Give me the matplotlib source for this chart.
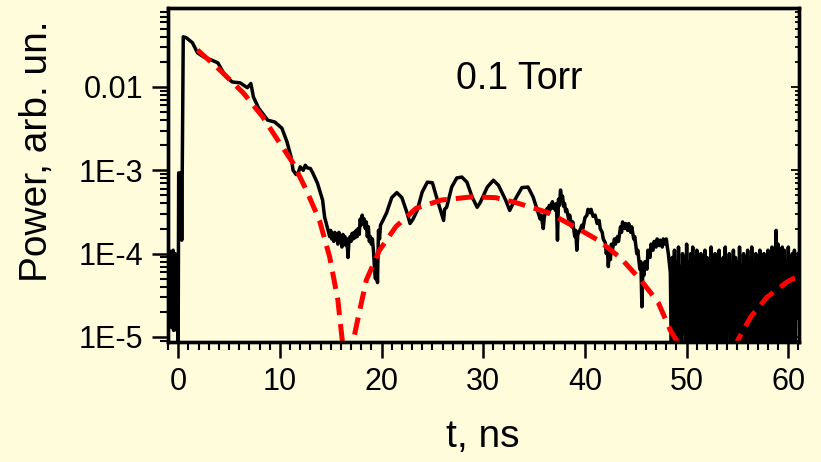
import numpy as np
import matplotlib
matplotlib.use('Agg')
import matplotlib.pyplot as plt
from matplotlib.ticker import MultipleLocator, LogLocator, NullFormatter

# measured signal, split into stretches (t in ns, power in arb. units)
t_pre = [-1.0, -0.95, -0.9, -0.85, -0.8, -0.75, -0.7, -0.65, -0.6, -0.55,
         -0.5, -0.45, -0.4, -0.35, -0.3, -0.25, -0.2, -0.15, -0.1, -0.05]
p_pre = [8e-5, 2e-5, 1.1e-4, 1.5e-5, 9e-5, 3e-5, 1e-4, 1.3e-5, 7e-5, 2.5e-5,
         1.1e-4, 1.2e-5, 6e-5, 4e-5, 1e-4, 1.5e-5, 8e-5, 1.2e-5, 5e-5, 2e-5]

t_decay = [0.0, 0.05, 0.3, 0.35, 0.5, 0.8, 1.4, 1.9, 2.5, 3.3,
           3.9, 4.6, 5.3, 6.1, 6.8, 7.15, 7.4, 7.9, 8.8, 9.5,
           10.2, 10.7, 11.1, 11.3, 11.6, 11.8, 12.0, 12.3, 12.5, 12.7,
           13.0, 13.2, 13.7, 14.2, 14.4, 14.8]
p_decay = [9e-6, 9.3e-4, 9.3e-4, 1.45e-4, 0.040, 0.039, 0.034, 0.0257, 0.023, 0.021,
           0.0195, 0.0138, 0.0115, 0.0112, 0.0098, 0.011, 0.0076, 0.0056, 0.0040, 0.0038,
           0.0032, 0.0022, 0.00145, 0.0010, 8.9e-4, 9.3e-4, 1.1e-3, 1.0e-3, 1.15e-3, 1.07e-3,
           1.05e-3, 9.5e-4, 7.0e-4, 4.4e-4, 2.75e-4, 1.8e-4]

t_dip = [14.9, 15.0, 15.1, 15.2, 15.3, 15.4, 15.5, 15.6, 15.7, 15.8,
         15.9, 16.0, 16.1, 16.2, 16.3, 16.4, 16.5, 16.6, 16.7, 16.8,
         16.9, 17.0, 17.1, 17.2, 17.3, 17.4, 17.5, 17.6, 17.7, 17.8,
         17.9, 18.0, 18.1, 18.2, 18.3, 18.4, 18.5, 18.6, 18.7, 18.8,
         18.9, 19.0, 19.1, 19.2, 19.3, 19.4, 19.5, 19.6, 19.7, 19.8, 19.9]
p_dip = [1.6e-4, 1.9e-4, 1.5e-4, 1.75e-4, 1.4e-4, 1.8e-4, 1.55e-4, 1.7e-4, 1.3e-4, 1.8e-4,
         1.45e-4, 1.65e-4, 1.2e-4, 1.7e-4, 1.4e-4, 1.6e-4, 1.25e-4, 1.5e-4, 9e-5, 1.45e-4,
         1.6e-4, 1.4e-4, 1.75e-4, 1.5e-4, 1.8e-4, 1.55e-4, 1.9e-4, 1.6e-4, 2.0e-4, 1.7e-4,
         2.6e-4, 2.2e-4, 2.9e-4, 2.3e-4, 2.6e-4, 2.0e-4, 2.4e-4, 1.6e-4, 2.1e-4, 1.4e-4,
         1.6e-4, 1.3e-4, 1.5e-4, 1.1e-4, 7e-5, 5e-5, 9e-5, 4.5e-5, 1.9e-4, 1.5e-4, 2.2e-4]

t_osc = [20.2, 20.5, 21.0, 21.5, 22.0, 22.5, 22.8, 23.1, 23.5, 24.0,
         24.5, 25.0, 25.4, 25.8, 26.1, 26.2, 26.4, 26.9, 27.4, 27.9,
         28.4, 28.9, 29.4, 29.7, 30.4, 31.0, 31.5, 32.2, 32.6, 33.1,
         33.8, 34.4, 34.9]
p_osc = [2.6e-4, 3.1e-4, 4.7e-4, 5.4e-4, 4.7e-4, 3.1e-4, 2.3e-4, 2.6e-4, 3.3e-4, 5.5e-4,
         7.2e-4, 7.1e-4, 4.8e-4, 3.3e-4, 2.5e-4, 3.4e-4, 3.6e-4, 6.3e-4, 8.1e-4, 8.3e-4,
         7.2e-4, 4.8e-4, 3.6e-4, 4.1e-4, 6.3e-4, 7.6e-4, 6.6e-4, 4.4e-4, 3.3e-4, 4.4e-4,
         6.2e-4, 6.3e-4, 4.8e-4]

t_late = [35.4, 35.6, 35.7, 35.9, 36.0, 36.1, 36.3, 36.4, 36.5, 36.6,
          36.8, 36.9, 37.0, 37.1, 37.2, 37.3, 37.4, 37.5, 37.6, 37.7,
          37.8, 37.9, 38.0, 38.1, 38.2, 38.4, 38.5, 38.7, 38.8, 39.0,
          39.1, 39.2, 39.3, 39.5, 39.7, 39.8, 40.0, 40.2, 40.3, 40.5,
          40.6, 40.8, 41.0, 41.2, 41.4, 41.5, 41.7, 41.8, 42.0, 42.1,
          42.2, 42.3, 42.4, 42.5, 42.6, 42.7, 42.9, 43.0, 43.2, 43.3,
          43.5, 43.6, 43.7, 43.9, 44.0, 44.2, 44.3, 44.5, 44.6, 44.8,
          44.9, 45.1, 45.2, 45.4, 45.5, 45.6, 45.7, 45.8, 45.9, 46.1,
          46.2, 46.4, 46.5, 46.7, 46.8, 47.0, 47.1, 47.3, 47.4, 47.6,
          47.7, 47.9, 48.0, 48.1, 48.2, 48.4]
p_late = [3.1e-4, 2.6e-4, 2.9e-4, 2.0e-4, 2.7e-4, 3.1e-4, 3.5e-4, 3.0e-4, 3.8e-4, 3.4e-4,
          4.2e-4, 3.5e-4, 3.9e-4, 3.3e-4, 4.0e-4, 1.45e-4, 4.5e-4, 3.8e-4, 5.8e-4, 4.4e-4,
          4.9e-4, 3.7e-4, 4.0e-4, 3.2e-4, 3.4e-4, 2.6e-4, 2.9e-4, 2.1e-4, 2.4e-4, 1.6e-4,
          1.9e-4, 1.1e-4, 1.7e-4, 1.9e-4, 2.2e-4, 2.0e-4, 2.7e-4, 2.9e-4, 3.4e-4, 3.1e-4,
          3.4e-4, 2.8e-4, 2.9e-4, 2.3e-4, 2.5e-4, 2.0e-4, 1.8e-4, 1.5e-4, 1.35e-4, 1.0e-4,
          1.2e-4, 7e-5, 1.1e-4, 8.5e-5, 1.3e-4, 1.1e-4, 1.5e-4, 1.3e-4, 1.6e-4, 1.4e-4,
          2.1e-4, 1.8e-4, 2.4e-4, 2.0e-4, 2.3e-4, 1.9e-4, 2.3e-4, 1.8e-4, 2.1e-4, 1.5e-4,
          1.6e-4, 1.0e-4, 1.1e-4, 6.5e-5, 8e-5, 2.3e-5, 7e-5, 5.5e-5, 8e-5, 6.5e-5,
          1.1e-4, 9e-5, 1.3e-4, 1.1e-4, 1.4e-4, 1.2e-4, 1.5e-4, 1.25e-4, 1.45e-4, 1.2e-4,
          1.5e-4, 1.3e-4, 1.5e-4, 1.2e-4, 1.0e-4, 5.9e-5]

t_tail = [48.5, 48.6, 48.7, 48.8, 48.9, 49.0, 49.1, 49.2, 49.3, 49.4,
          49.5, 49.6, 49.7, 49.8, 49.9, 50.0, 50.1, 50.2, 50.3, 50.4,
          50.5, 50.6, 50.7, 50.8, 50.9, 51.0, 51.1, 51.2, 51.3, 51.4,
          51.5, 51.6, 51.7, 51.8, 51.9, 52.0, 52.1, 52.2, 52.3, 52.4,
          52.5, 52.6, 52.7, 52.8, 52.9, 53.0, 53.1, 53.2, 53.3, 53.4,
          53.5, 53.6, 53.7, 53.8, 53.9, 54.0, 54.1, 54.2, 54.3, 54.4,
          54.5, 54.6, 54.7, 54.8, 54.9, 55.0, 55.1, 55.2, 55.3, 55.4,
          55.5, 55.6, 55.7, 55.8, 55.9, 56.0, 56.1, 56.2, 56.3, 56.4,
          56.5, 56.6, 56.7, 56.8, 56.9, 57.0, 57.1, 57.2, 57.3, 57.4,
          57.5, 57.6, 57.7, 57.8, 57.9, 58.0, 58.1, 58.2, 58.3, 58.4,
          58.5, 58.6, 58.7, 58.8, 58.9, 59.0, 59.1, 59.2, 59.3, 59.4,
          59.5, 59.6, 59.7, 59.8, 59.9, 60.0, 60.1, 60.2, 60.3, 60.4,
          60.5, 60.6, 60.7, 60.8, 60.9, 61.0]
p_tail = [5e-6, 9e-5, 4e-6, 1.1e-4, 2e-5, 8e-5, 5e-6, 1.2e-4, 1.5e-5, 7e-5,
          4e-6, 1.0e-4, 3e-5, 9e-5, 6e-6, 1.3e-4, 1.2e-5, 8e-5, 4e-6, 1.0e-4,
          2.5e-5, 1.2e-4, 5e-6, 9e-5, 1.8e-5, 1.1e-4, 4e-6, 7e-5, 3e-5, 1.0e-4,
          6e-6, 8e-5, 1.4e-5, 1.1e-4, 4e-6, 9e-5, 2e-5, 7e-5, 5e-6, 1.2e-4,
          1.1e-5, 8e-5, 4e-6, 1.0e-4, 3e-5, 7e-5, 5e-6, 1.1e-4, 1.6e-5, 8e-5,
          4e-6, 9e-5, 2.2e-5, 1.2e-4, 6e-6, 8e-5, 1.3e-5, 1.0e-4, 4e-6, 7e-5,
          2.8e-5, 1.1e-4, 5e-6, 9e-5, 1.5e-5, 8e-5, 4e-6, 1.2e-4, 2e-5, 7e-5,
          6e-6, 1.0e-4, 1.2e-5, 9e-5, 4e-6, 1.1e-4, 2.5e-5, 8e-5, 5e-6, 1.2e-4,
          1.4e-5, 7e-5, 4e-6, 1.0e-4, 3e-5, 9e-5, 6e-6, 1.1e-4, 1.8e-5, 8e-5,
          4e-6, 1.0e-4, 2.2e-5, 7e-5, 5e-6, 1.1e-4, 1.3e-5, 9e-5, 4e-6, 1.2e-4,
          2.6e-5, 1.0e-4, 6e-6, 1.9e-4, 3e-5, 1.3e-4, 5e-6, 1.0e-4, 1.6e-5, 1.2e-4,
          4e-6, 1.1e-4, 2.4e-5, 8e-5, 5e-6, 1.2e-4, 1.5e-5, 9e-5, 4e-6, 1.0e-4,
          2.8e-5, 1.1e-4, 6e-6, 9e-5, 1.7e-5, 1.0e-4]

# fitted curve
t_fit = [1.9, 4.1, 6.4, 8.3, 9.8, 11.3, 12.6, 13.9, 14.9, 15.7,
         16.1, 16.4, 16.7, 17.0, 17.3, 17.6, 18.5, 19.8, 21.4, 23.4,
         25.9, 28.9, 31.2, 33.2, 36.4, 39.0, 41.3, 43.5, 45.5, 47.2,
         48.4, 49.1, 50.5, 52.0, 53.5, 54.6, 55.0, 56.3, 57.9, 59.9, 61.0]
p_fit = [0.0278, 0.016, 0.0085, 0.0044, 0.0023, 0.00122, 5.8e-4, 2.5e-4, 9.1e-5, 2.8e-5,
         1.0e-5, 4e-6, 2e-6, 4e-6, 1.0e-5, 1.5e-5, 4.8e-5, 1.1e-4, 2.1e-4, 3.5e-4,
         4.4e-4, 4.8e-4, 4.7e-4, 4.1e-4, 3.1e-4, 2.1e-4, 1.45e-4, 8.9e-5, 4.8e-5, 2.6e-5,
         1.2e-5, 8.7e-6, 4e-6, 2e-6, 3e-6, 7e-6, 9e-6, 1.74e-5, 3.0e-5, 4.6e-5, 5.4e-5]

y_ticks = [1e-5, 1e-4, 1e-3, 1e-2]
y_tick_labels = ['1E-5', '1E-4', '1E-3', '0.01']

plt.rcParams['font.family'] = ['Liberation Sans', 'DejaVu Sans']
BG = '#FFFCDB'

fig = plt.figure(figsize=(8.21, 4.62), dpi=100, facecolor=BG)
ax = fig.add_axes([168 / 821, 120 / 462, 631 / 821, 334 / 462], facecolor=BG)

t_sig = np.concatenate([t_pre, t_decay, t_dip, t_osc, t_late, t_tail])
p_sig = np.concatenate([p_pre, p_decay, p_dip, p_osc, p_late, p_tail])

ax.plot(t_sig, p_sig, color='black', lw=2.5)
ax.plot(t_fit, p_fit, color='red', lw=3.6, dashes=(3.5, 1.8))

ax.set_yscale('log')
ax.set_xlim(-1.0, 61.05)
ax.set_ylim(8.7e-6, 0.0887)

ax.set_yticks(y_ticks)
ax.set_yticklabels(y_tick_labels)
ax.yaxis.set_minor_locator(LogLocator(base=10, subs=np.arange(2, 10)))
ax.yaxis.set_minor_formatter(NullFormatter())
ax.xaxis.set_major_locator(MultipleLocator(10))
ax.xaxis.set_minor_locator(MultipleLocator(1))

ax.tick_params(which='major', direction='out', length=11.5, width=1.8,
               labelsize=22, pad=6.5)
ax.tick_params(which='minor', direction='out', length=6, width=1.5)

# short inward ticks along the right edge
ax_r = ax.twinx()
ax_r.set_yscale('log')
ax_r.set_ylim(ax.get_ylim())
ax_r.set_yticks(y_ticks)
ax_r.yaxis.set_minor_locator(LogLocator(base=10, subs=np.arange(2, 10)))
ax_r.tick_params(which='both', direction='in', labelright=False, width=1.3)
ax_r.tick_params(which='major', length=6)
ax_r.tick_params(which='minor', length=3)

for a in (ax, ax_r):
    for s in a.spines.values():
        s.set_linewidth(2.4)

ax.set_ylabel('Power, arb. un.', fontsize=28)
ax.yaxis.label.set_va('center')
ax.yaxis.set_label_coords(-0.207, 0.572)
ax.set_xlabel('t, ns', fontsize=28)
ax.xaxis.label.set_va('center')
ax.xaxis.set_label_coords(0.499, -0.284)

ax.text(33.5, 0.0125, '0.1 Torr', fontsize=27, ha='center', va='center')

fig.savefig('out.png', dpi=100, facecolor=BG)
